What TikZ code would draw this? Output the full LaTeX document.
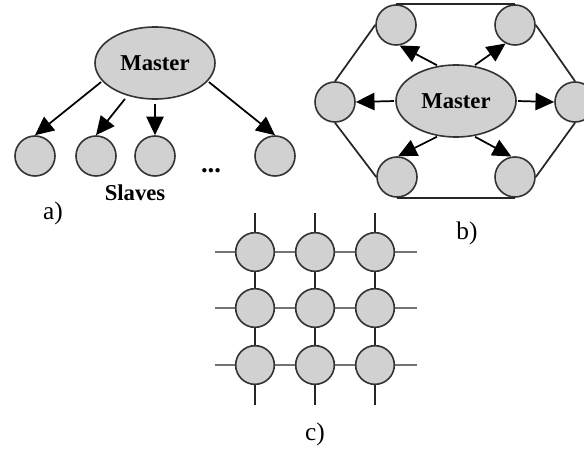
\documentclass[tikz,border=0pt]{standalone}
\usepackage{fontspec}
\setmainfont{Liberation Serif}
\usetikzlibrary{shapes.geometric,arrows.meta}
\begin{document}
\begin{tikzpicture}[x=0.75pt,y=-0.75pt,
 bub/.style={circle,draw=black!80,fill=black!18,line width=1.2pt,minimum size=30pt,inner sep=0pt},
 mast/.style={ellipse,draw=black!80,fill=black!18,line width=1.2pt,minimum width=90pt,minimum height=54pt,inner sep=0pt,font=\fontsize{17}{19}\selectfont\bfseries},
 arr/.style={-{Triangle[length=14pt,width=13pt]},line width=1.3pt,shorten <=1pt},
 lnk/.style={line width=1.3pt,draw=black!85},
 hlnk/.style={line width=1.3pt,draw=black!55},
 lbl/.style={font=\fontsize{19}{21}\selectfont,anchor=base},
 blbl/.style={font=\fontsize{17}{19}\selectfont\bfseries,anchor=base}]
\useasboundingbox (0,0) rectangle (584,456);
% ---- a) ----
\node[mast] (am) at (155,63) {Master};
\node[bub] (s1) at (35,156) {};
\node[bub] (s2) at (96,156) {};
\node[bub] (s3) at (155,156) {};
\node[bub] (s4) at (275,156) {};
\node[blbl,font=\fontsize{20}{22}\selectfont\bfseries] (dots) at (211,172) {...};
\node[blbl] (slaves) at (135,200) {Slaves};
\node[lbl] (la) at (53,219) {a)};
\draw[arr] (am.199) -- (s1.north);
\draw[arr,shorten <=3pt] (am.230) -- (s2.north);
\draw[arr,shorten <=3pt] (am.south) -- (s3.north);
\draw[arr] (am.341) -- (s4.north);
% ---- b) ----
\node[bub] (tl) at (396,25) {};
\node[bub] (tr) at (515,25) {};
\node[bub] (l) at (335,102) {};
\node[bub] (r) at (575,102) {};
\node[bub] (bl) at (397,177) {};
\node[bub] (br) at (515,177) {};
\node[mast] (bm) at (456,101) {Master};
\draw[lnk] (tl.north) -- (tr.north);
\draw[lnk] (bl.south) -- (br.south);
\draw[lnk] (tl.west) -- (l.north);
\draw[lnk] (l.south) -- (bl.west);
\draw[lnk] (tr.east) -- (r.north);
\draw[lnk] (r.south) -- (br.east);
\draw[arr] (bm.west) -- (l.east);
\draw[arr] (bm.east) -- (r.west);
\draw[arr] (bm.117) -- (tl.280);
\draw[arr] (bm.63) -- (tr.243);
\draw[arr] (bm.243) -- (bl.87);
\draw[arr] (bm.297) -- (br.100);
\node[lbl] (lb) at (467,239) {b)};
% ---- c) ----
\foreach \i/\y in {1/252,2/308,3/365}{
  \foreach \j/\x in {1/255,2/315,3/375}{
    \node[bub,minimum size=29pt] (c\i\j) at (\x,\y) {};
  }
}
\foreach \i/\y in {1/252,2/308,3/365}{
  \coordinate (hw\i) at (215,\y);
  \coordinate (he\i) at (417,\y);
  \draw[hlnk] (hw\i) -- (c\i1) -- (c\i2) -- (c\i3) -- (he\i);
}
\foreach \j/\x in {1/255,2/315,3/375}{
  \coordinate (vn\j) at (\x,213);
  \coordinate (vs\j) at (\x,405);
  \draw[lnk] (vn\j) -- (c1\j) -- (c2\j) -- (c3\j) -- (vs\j);
}
\node[lbl] (lc) at (315,440) {c)};
\end{tikzpicture}
\end{document}
